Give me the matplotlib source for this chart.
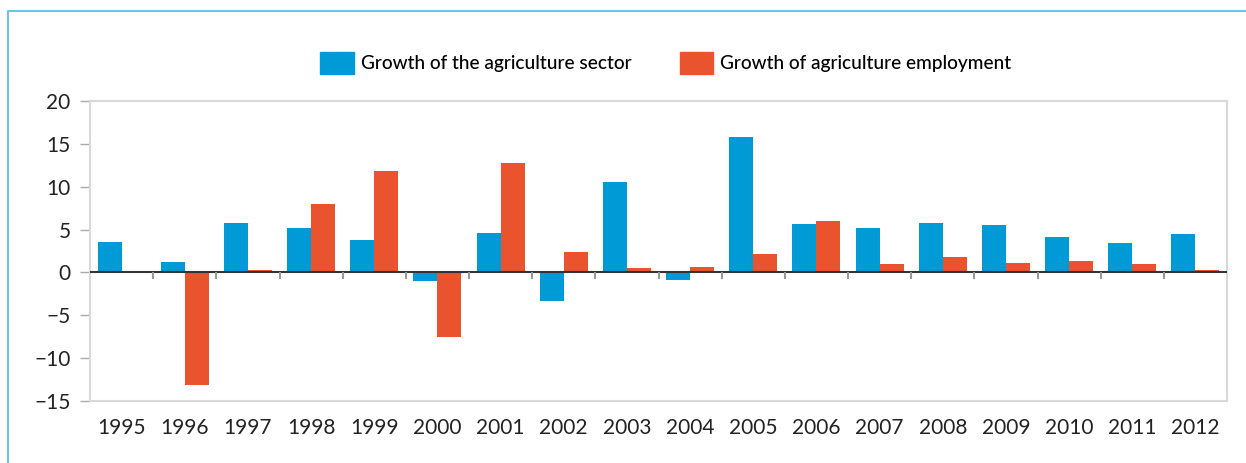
import matplotlib
matplotlib.use("Agg")
import matplotlib.pyplot as plt
from matplotlib.lines import Line2D
from matplotlib.patches import Patch
import numpy as np

years = ["1995", "1996", "1997", "1998", "1999", "2000", "2001", "2002", "2003",
         "2004", "2005", "2006", "2007", "2008", "2009", "2010", "2011", "2012"]
sector_growth = [3.6, 1.2, 5.8, 5.2, 3.8, -1.0, 4.6, -3.3, 10.5,
                 -0.85, 15.8, 5.65, 5.2, 5.8, 5.5, 4.1, 3.4, 4.5]
employment_growth = [0.0, -13.1, 0.3, 8.0, 11.8, -7.5, 12.8, 2.4, 0.5,
                     0.6, 2.15, 6.0, 1.0, 1.8, 1.1, 1.3, 1.0, 0.3]
series_labels = ["Growth of the agriculture sector", "Growth of agriculture employment"]
yticks = [-15, -10, -5, 0, 5, 10, 15, 20]

BLUE = "#009AD7"
RED = "#E9532D"
GRID = "#d9d9d9"
TXT = "#222222"

plt.rcParams['font.family'] = ['Lato', 'DejaVu Sans']

fig = plt.figure(figsize=(12.46, 4.63), dpi=100)
ax = fig.add_axes([90/1246, 62/463, 1137/1246, 300/463])

x = np.arange(len(years))
w = 0.38
ax.bar(x - w/2, sector_growth, width=w, color=BLUE, zorder=2)
ax.bar(x + w/2, employment_growth, width=w, color=RED, zorder=2)

ax.set_xlim(-0.5, len(years) - 0.5)
ax.set_ylim(-15, 20)
ax.set_yticks(yticks)
ax.set_yticklabels(["\u2212" + str(-t) if t < 0 else str(t) for t in yticks],
                   fontsize=15, color=TXT)
ax.set_xticks(x)
ax.set_xticklabels(years, fontsize=15, color=TXT)
ax.tick_params(axis='x', length=0, pad=12)
ax.tick_params(axis='y', length=7, width=1, color="#aaaaaa", pad=7)

for s in ax.spines.values():
    s.set_color(GRID)
    s.set_linewidth(1.5)

ax.axhline(0, color="#333333", lw=1.5, zorder=3)
bounds = np.arange(len(years) - 1) + 0.5
ax.vlines(bounds, -0.75, 0, color="#999999", lw=1.5, zorder=3)

handles = [Patch(color=BLUE), Patch(color=RED)]
fig.legend(handles, series_labels, loc="center", bbox_to_anchor=(666/1246, 1 - 63/463),
           ncol=2, frameon=False, handlelength=1.75, handleheight=1.45,
           handletextpad=0.4, columnspacing=2.5,
           prop={'size': 13.7, 'weight': 'medium'})

fig.add_artist(Line2D([8/1246, 8/1246, 1], [0, 1 - 11/463, 1 - 11/463],
                      transform=fig.transFigure, color="#6cc5e9", lw=1.5))

fig.savefig("out.png", dpi=100)
